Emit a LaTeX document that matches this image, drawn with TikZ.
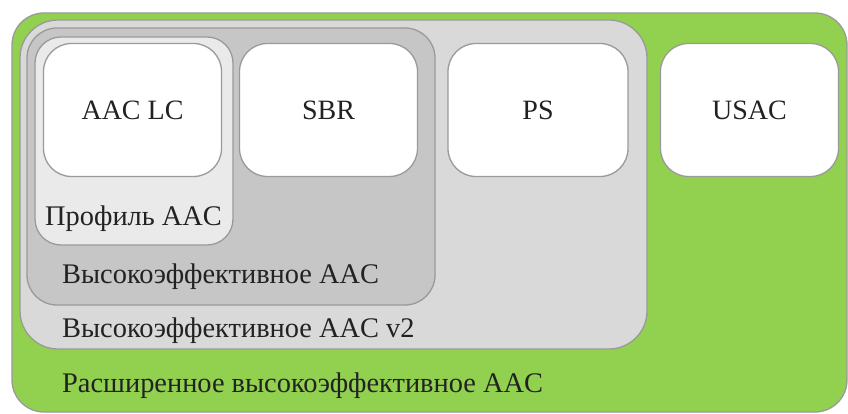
\documentclass[tikz,border=0pt]{standalone}
\usepackage{fontspec}
\setmainfont{Liberation Serif}
\definecolor{extgreen}{HTML}{92D050}
\definecolor{hevtwo}{HTML}{D9D9D9}
\definecolor{hegray}{HTML}{C6C6C6}
\definecolor{lcgray}{HTML}{EAEAEA}
\definecolor{edgegray}{HTML}{9A9A9A}
\definecolor{inkgray}{HTML}{222222}
\tikzset{
  profile/.style={draw=edgegray, line width=1.3pt, rounded corners=#1},
  module/.style={draw=edgegray, fill=white, line width=1.3pt, rounded corners=28pt,
    minimum width=178pt, minimum height=133pt, inner sep=0pt,
    text=inkgray, font=\fontsize{28}{32}\selectfont},
  tag/.style={anchor=base west, inner sep=0pt, text=inkgray,
    font=\fontsize{28.4}{32}\selectfont}
}
\begin{document}
\begin{tikzpicture}[x=1pt, y=-1pt]
    \useasboundingbox (0, 0) rectangle (848, 414);
    % nested profiles, outermost first
    \draw[profile=32pt, fill=extgreen] (12, 13) rectangle (847, 412);
    \draw[profile=38pt, fill=hevtwo] (20, 20) rectangle (647, 349);
    \draw[profile=30pt, fill=hegray] (27, 28) rectangle (435, 305);
    \draw[profile=26pt, fill=lcgray] (35, 37) rectangle (233, 245);
    % tools
    \node[module] (aaclc) at (132.5, 110) {AAC LC};
    \node[module] (sbr) at (328.5, 110) {SBR};
    \node[module, minimum width=180pt] (ps) at (538, 110) {PS};
    \node[module] (usac) at (749.5, 110) {USAC};
    % profile names
    \node[tag] (aacname) at (45, 225) {Профиль AAC};
    \node[tag] (hename) at (62, 283) {Высокоэффективное AAC};
    \node[tag] (hevtwoname) at (62, 337) {Высокоэффективное AAC v2};
    \node[tag] (xhename) at (62, 392) {Расширенное высокоэффективное AAC};
\end{tikzpicture}
\end{document}
